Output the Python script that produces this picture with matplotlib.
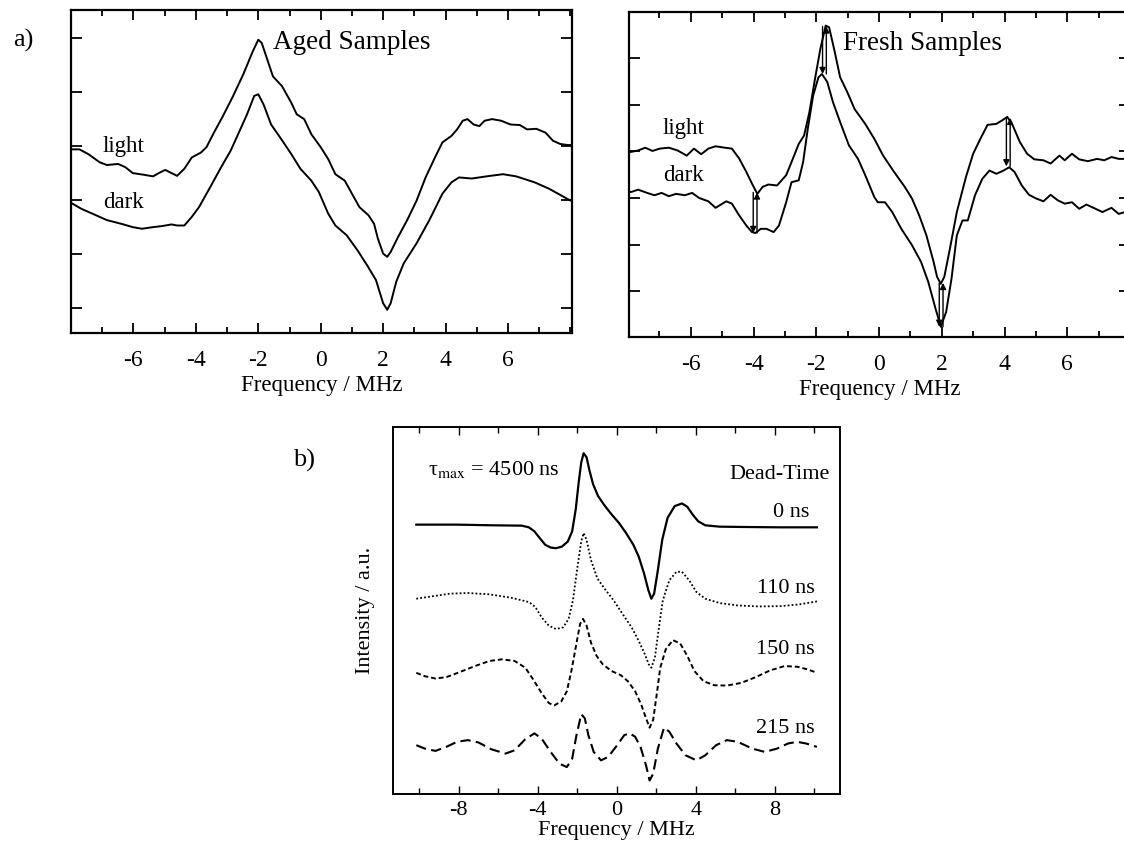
import matplotlib
matplotlib.use("Agg")
import matplotlib.pyplot as plt
from matplotlib.ticker import MultipleLocator, NullFormatter

plt.rcParams['font.family'] = ['Liberation Serif', 'DejaVu Serif']
plt.rcParams['mathtext.fontset'] = 'stix'
plt.rcParams['axes.unicode_minus'] = False

# ---------------- data: a) Aged samples ----------------
aged_light_x = [-8.03, -7.73, -7.44, -7.08, -6.85, -6.49, -6.26, -6.02, -5.67, -5.37, -5.19, -4.98, -4.78, -4.60,
                -4.37, -4.13, -3.84, -3.66, -3.42, -3.13, -2.83, -2.48, -2.18, -2.0, -1.89, -1.71, -1.53, -1.24,
                -0.94, -0.77, -0.53, -0.30, 0.0, 0.24, 0.47, 0.77, 1.0, 1.24, 1.53, 1.71, 1.83, 2.0, 2.13, 2.24,
                2.48, 2.77, 3.07, 3.36, 3.66, 3.90, 4.19, 4.37, 4.55, 4.70, 4.90, 5.08, 5.25, 5.49, 5.78, 6.08,
                6.38, 6.61, 6.91, 7.20, 7.44, 7.67, 7.91, 8.05]
aged_light_y = [2.94, 2.94, 2.85, 2.70, 2.65, 2.67, 2.61, 2.50, 2.47, 2.44, 2.50, 2.56, 2.50, 2.45,
                2.58, 2.79, 2.88, 2.98, 3.25, 3.56, 3.90, 4.33, 4.75, 4.97, 4.91, 4.60, 4.29, 4.11,
                3.80, 3.59, 3.50, 3.22, 2.98, 2.76, 2.48, 2.36, 2.12, 1.87, 1.72, 1.56, 1.29, 1.01, 0.95, 1.04,
                1.32, 1.63, 1.99, 2.42, 2.79, 3.07, 3.19, 3.31, 3.47, 3.50, 3.40, 3.37, 3.47, 3.50, 3.47, 3.40,
                3.39, 3.31, 3.32, 3.25, 3.10, 3.04, 3.02, 3.02]
aged_dark_x = [-8.03, -7.67, -7.20, -6.85, -6.38, -6.02, -5.73, -5.37, -5.08, -4.78, -4.60, -4.37, -4.13, -3.90,
               -3.54, -3.19, -2.89, -2.60, -2.36, -2.13, -2.0, -1.83, -1.59, -1.30, -0.94, -0.65, -0.30, -0.06,
               0.24, 0.47, 0.83, 1.18, 1.48, 1.77, 2.0, 2.13, 2.24, 2.42, 2.66, 3.07, 3.48, 3.90, 4.19, 4.43,
               4.84, 5.31, 5.84, 6.26, 6.85, 7.32, 7.91, 8.05]
aged_dark_y = [1.96, 1.84, 1.72, 1.63, 1.56, 1.50, 1.47, 1.50, 1.52, 1.55, 1.53, 1.53, 1.69, 1.87,
               2.24, 2.61, 2.91, 3.28, 3.59, 3.93, 3.96, 3.77, 3.40, 3.16, 2.85, 2.58, 2.36, 2.15,
               1.75, 1.53, 1.35, 1.07, 0.80, 0.52, 0.09, -0.03, 0.09, 0.49, 0.83, 1.20, 1.63, 2.12, 2.33, 2.42,
               2.40, 2.44, 2.48, 2.44, 2.33, 2.21, 2.02, 1.98]

# ---------------- data: a) Fresh samples ----------------
fresh_light_x = [-7.97, -7.90, -7.68, -7.45, -7.22, -6.99, -6.70, -6.42, -6.13, -5.90, -5.67, -5.44, -5.21, -4.92, -4.69,
                 -4.46, -4.23, -4.05, -3.88, -3.71, -3.53, -3.25, -2.96, -2.79, -2.56, -2.39, -2.22, -2.04, -1.87,
                 -1.70, -1.59, -1.42, -1.24, -1.01, -0.78, -0.44, -0.15, 0.13, 0.48, 0.82, 1.05, 1.28, 1.51, 1.74,
                 1.85, 1.97, 2.08, 2.25, 2.48, 2.77, 3.00, 3.23, 3.46, 3.74, 3.91, 4.09, 4.26, 4.49, 4.72, 4.95,
                 5.24, 5.47, 5.75, 5.92, 6.15, 6.38, 6.66, 6.95, 7.18, 7.41, 7.64, 7.84, 8.0]
fresh_light_y = [2.99, 2.99, 3.02, 3.08, 3.01, 3.06, 3.08, 3.02, 2.91, 3.06, 2.94, 3.06, 3.11, 3.08, 3.06,
                 2.85, 2.56, 2.31, 2.09, 2.24, 2.29, 2.27, 2.49, 2.77, 3.16, 3.34, 3.84, 4.56, 5.20,
                 5.70, 5.66, 5.16, 4.59, 4.27, 3.91, 3.59, 3.27, 2.91, 2.56, 2.24, 1.99, 1.63, 1.20, 0.63,
                 0.31, 0.16, 0.31, 0.88, 1.70, 2.45, 2.95, 3.27, 3.57, 3.59, 3.66, 3.74, 3.56, 3.20, 2.95, 2.83,
                 2.81, 2.74, 2.91, 2.81, 2.95, 2.83, 2.79, 2.84, 2.81, 2.88, 2.84, 2.84, 2.86]
fresh_dark_x = [-7.97, -7.90, -7.68, -7.39, -7.16, -6.93, -6.70, -6.47, -6.19, -5.96, -5.73, -5.44, -5.21, -5.04, -4.87,
                -4.69, -4.46, -4.23, -4.05, -3.94, -3.77, -3.59, -3.36, -3.19, -2.96, -2.79, -2.56, -2.42, -2.27,
                -2.10, -1.93, -1.82, -1.65, -1.47, -1.24, -0.96, -0.67, -0.44, -0.15, -0.04, 0.19, 0.42, 0.71,
                1.05, 1.34, 1.57, 1.80, 1.97, 2.14, 2.31, 2.48, 2.66, 2.83, 3.06, 3.29, 3.52, 3.74, 3.97, 4.15,
                4.32, 4.55, 4.78, 5.01, 5.24, 5.47, 5.70, 5.92, 6.15, 6.38, 6.61, 6.90, 7.12, 7.41, 7.64, 7.84, 8.0]
fresh_dark_y = [2.13, 2.13, 2.18, 2.11, 2.06, 2.11, 2.04, 2.09, 2.06, 2.11, 2.00, 1.93, 1.79, 1.86, 1.93,
                1.88, 1.63, 1.41, 1.27, 1.25, 1.34, 1.34, 1.27, 1.41, 1.91, 2.34, 2.38, 2.77, 3.49,
                4.20, 4.59, 4.66, 4.49, 4.06, 3.63, 3.13, 2.84, 2.49, 2.02, 1.91, 1.91, 1.70, 1.34,
                0.99, 0.63, 0.20, -0.37, -0.76, -0.44, 0.27, 1.20, 1.52, 1.52, 2.06, 2.41, 2.59, 2.52, 2.59, 2.66,
                2.56, 2.27, 2.07, 1.99, 1.93, 2.07, 1.95, 1.88, 1.91, 1.77, 1.86, 1.77, 1.70, 1.79, 1.66, 1.70, 1.72]

# light/dark difference arrows (x, light level, dark level)
arrow_x = [-3.95, -1.74, 1.98, 4.12]
arrow_top = [2.12, 5.68, 0.18, 3.72]
arrow_bottom = [1.25, 4.66, -0.76, 2.68]

# ---------------- data: b) dead-time series ----------------
dt_labels = ['0 ns', '110 ns', '150 ns', '215 ns']
dt0_x = [-10.15, -8.09, -6.27, -4.81, -4.45, -4.17, -3.90, -3.62, -3.35, -3.08, -2.77, -2.48, -2.26, -2.08,
         -1.93, -1.80, -1.68, -1.53, -1.38, -1.20, -0.95, -0.62, -0.26, 0.11, 0.47, 0.84, 1.11, 1.38, 1.60,
         1.75, 1.89, 2.08, 2.30, 2.57, 2.93, 3.30, 3.57, 3.84, 4.12, 4.48, 5.21, 6.48, 8.31, 10.13]
dt0_y = [8.00, 8.00, 7.98, 7.97, 7.92, 7.80, 7.60, 7.40, 7.32, 7.30, 7.35, 7.50, 7.80, 8.45,
         9.25, 9.85, 10.12, 10.00, 9.60, 9.20, 8.85, 8.57, 8.30, 8.05, 7.75, 7.40, 7.05, 6.55, 6.05,
         5.80, 5.95, 6.65, 7.55, 8.20, 8.55, 8.63, 8.53, 8.30, 8.10, 7.98, 7.94, 7.93, 7.92, 7.92]
dt110_x = [-10.15, -9.36, -8.45, -7.54, -6.45, -5.36, -4.44, -4.12, -3.81, -3.44, -3.08, -2.71, -2.44, -2.22,
           -1.99, -1.80, -1.68, -1.53, -1.31, -0.98, -0.62, -0.16, 0.29, 0.75, 1.11, 1.42, 1.62, 1.75, 1.93,
           2.11, 2.33, 2.66, 3.02, 3.30, 3.66, 4.03, 4.48, 5.21, 6.12, 7.21, 8.31, 9.22, 10.13]
dt110_y = [5.80, 5.87, 5.95, 5.97, 5.93, 5.83, 5.70, 5.55, 5.25, 5.00, 4.90, 4.95, 5.20, 5.75,
           6.75, 7.50, 7.75, 7.55, 6.95, 6.40, 6.10, 5.75, 5.35, 4.95, 4.55, 4.15, 3.85, 3.75, 4.05,
           4.85, 5.75, 6.35, 6.60, 6.60, 6.35, 6.00, 5.80, 5.67, 5.60, 5.57, 5.58, 5.63, 5.72]
dt150_x = [-10.15, -9.73, -9.18, -8.63, -7.91, -7.18, -6.45, -5.81, -5.17, -4.63, -4.23, -3.81, -3.44, -3.17,
           -2.81, -2.53, -2.30, -2.08, -1.86, -1.71, -1.53, -1.31, -1.02, -0.71, -0.26, 0.20, 0.56, 0.93,
           1.24, 1.48, 1.66, 1.84, 2.02, 2.20, 2.48, 2.84, 3.21, 3.57, 3.93, 4.39, 4.93, 5.57, 6.30, 7.03,
           7.76, 8.49, 9.13, 9.67, 10.13]
dt150_y = [3.60, 3.50, 3.43, 3.47, 3.63, 3.80, 3.95, 4.00, 3.95, 3.75, 3.40, 3.00, 2.70, 2.63,
           2.75, 3.05, 3.65, 4.35, 5.05, 5.20, 5.00, 4.50, 4.10, 3.85, 3.65, 3.53, 3.35, 3.05,
           2.65, 2.25, 1.97, 2.20, 2.95, 3.75, 4.30, 4.57, 4.47, 4.10, 3.65, 3.35, 3.23, 3.22, 3.30, 3.47,
           3.67, 3.80, 3.78, 3.70, 3.60]
dt215_x = [-10.15, -9.73, -9.18, -8.63, -8.09, -7.54, -7.00, -6.36, -5.63, -5.17, -4.63, -4.17, -3.81, -3.35,
           -2.90, -2.53, -2.26, -2.04, -1.80, -1.62, -1.44, -1.17, -0.80, -0.44, 0.02, 0.38, 0.66, 0.93,
           1.20, 1.48, 1.66, 1.84, 2.08, 2.39, 2.66, 3.02, 3.48, 4.03, 4.48, 5.03, 5.57, 6.12, 6.85, 7.49,
           8.12, 8.67, 9.13, 9.58, 10.13]
dt215_y = [1.45, 1.35, 1.28, 1.40, 1.55, 1.60, 1.53, 1.33, 1.20, 1.30, 1.63, 1.80, 1.65, 1.25,
           0.90, 0.80, 1.05, 1.75, 2.37, 2.25, 1.75, 1.25, 1.00, 1.10, 1.45, 1.75, 1.80, 1.70,
           1.40, 0.85, 0.40, 0.60, 1.35, 1.97, 1.85, 1.50, 1.15, 1.00, 1.15, 1.45, 1.60, 1.55, 1.35, 1.25,
           1.35, 1.50, 1.55, 1.50, 1.40]

W, H = 1124, 846
fig = plt.figure(figsize=(W / 100, H / 100), dpi=100)


def rect(l, t, r, b):
    return [l / W, 1 - b / H, (r - l) / W, (b - t) / H]


LW = 1.4
FS = 16.5


def style_top(ax, xlim, ylim):
    ax.set_xlim(*xlim)
    ax.set_ylim(*ylim)
    ax.xaxis.set_major_locator(MultipleLocator(2))
    ax.xaxis.set_minor_locator(MultipleLocator(1))
    ax.yaxis.set_major_locator(MultipleLocator(1))
    ax.yaxis.set_major_formatter(NullFormatter())
    ax.tick_params(which='both', direction='in', top=True, right=True, width=1.3)
    ax.tick_params(which='major', length=7, labelsize=17, pad=12)
    ax.tick_params(which='minor', length=4)
    ax.tick_params(axis='y', which='major', length=8)
    for s in ax.spines.values():
        s.set_linewidth(1.6)
    ax.set_xlabel('Frequency / MHz', fontsize=FS, labelpad=3)


xt = [-6, -4, -2, 0, 2, 4, 6]

# Aged samples
ax1 = fig.add_axes(rect(71, 10, 572, 333))
ax1.plot(aged_light_x, aged_light_y, color='black', lw=LW)
ax1.plot(aged_dark_x, aged_dark_y, color='black', lw=LW)
style_top(ax1, (-8.0, 8.05), (-0.46, 5.52))
ax1.set_xticks(xt)
ax1.set_xticklabels([str(v) for v in xt])
ax1.text(1.0, 4.91, 'Aged Samples', fontsize=19.5, ha='center', va='center')
ax1.text(-6.33, 3.0, 'light', fontsize=FS, ha='center', va='center')
ax1.text(-6.33, 1.96, 'dark', fontsize=FS, ha='center', va='center')

# Fresh samples
ax2 = fig.add_axes(rect(629, 12, 1130, 337))
ax2.plot(fresh_light_x, fresh_light_y, color='black', lw=LW)
ax2.plot(fresh_dark_x, fresh_dark_y, color='black', lw=LW)
style_top(ax2, (-7.97, 8.0), (-0.98, 5.99))
ax2.set_xticks(xt)
ax2.set_xticklabels([str(v) for v in xt])
ax2.text(1.4, 5.31, 'Fresh Samples', fontsize=19.5, ha='center', va='center')
ax2.text(-6.24, 3.49, 'light', fontsize=FS, ha='center', va='center')
ax2.text(-6.24, 2.49, 'dark', fontsize=FS, ha='center', va='center')
for xa, yt, yb in zip(arrow_x, arrow_top, arrow_bottom):
    ax2.annotate('', xy=(xa - 0.06, yb), xytext=(xa - 0.06, yt),
                 arrowprops=dict(arrowstyle='-|>', lw=1.0, color='black', mutation_scale=9, shrinkA=0, shrinkB=0))
    ax2.annotate('', xy=(xa + 0.06, yt), xytext=(xa + 0.06, yb),
                 arrowprops=dict(arrowstyle='-|>', lw=1.0, color='black', mutation_scale=9, shrinkA=0, shrinkB=0))

fig.text(23 / W, 1 - 40 / H, 'a)', fontsize=19, ha='center', va='center')

# b) dead-time panel
ax3 = fig.add_axes(rect(393, 427, 840, 794))
ax3.plot(dt0_x, dt0_y, color='black', lw=1.6, ls='-')
ax3.plot(dt110_x, dt110_y, color='black', lw=1.3, ls=(0, (1, 1.2)))
ax3.plot(dt150_x, dt150_y, color='black', lw=1.4, ls=(0, (2.5, 1.5)))
ax3.plot(dt215_x, dt215_y, color='black', lw=1.5, ls=(0, (5, 2.5)))
ax3.set_xlim(-11.33, 11.3)
ax3.set_ylim(0, 10.9)
ax3.xaxis.set_minor_locator(MultipleLocator(2))
ax3.set_xticks([-8, -4, 0, 4, 8])
ax3.set_xticklabels(['-8', '-4', '0', '4', '8'])
ax3.set_yticks([])
ax3.tick_params(which='both', direction='in', top=True, width=1.0)
ax3.tick_params(which='major', length=6, labelsize=16, pad=5)
ax3.tick_params(which='minor', length=4)
for s in ax3.spines.values():
    s.set_linewidth(1.4)
ax3.set_xlabel('Frequency / MHz', fontsize=16, labelpad=1)
ax3.set_ylabel('Intensity / a.u.', fontsize=16, labelpad=13)
ax3.text(-9.54, 9.65, 'τ$_{\\rm max}$ = 4500 ns', fontsize=16, ha='left', va='center')
ax3.text(10.77, 9.5, 'Dead-Time', fontsize=16, ha='right', va='center')
label_y = [8.35, 6.1, 4.3, 1.95]
label_x = [9.76, 10.04, 10.04, 10.04]
for lx, ly, lab in zip(label_x, label_y, dt_labels):
    ax3.text(lx, ly, lab, fontsize=16, ha='right', va='center')

fig.text(304 / W, 1 - 460 / H, 'b)', fontsize=19, ha='center', va='center')

fig.savefig('out.png', dpi=100)
